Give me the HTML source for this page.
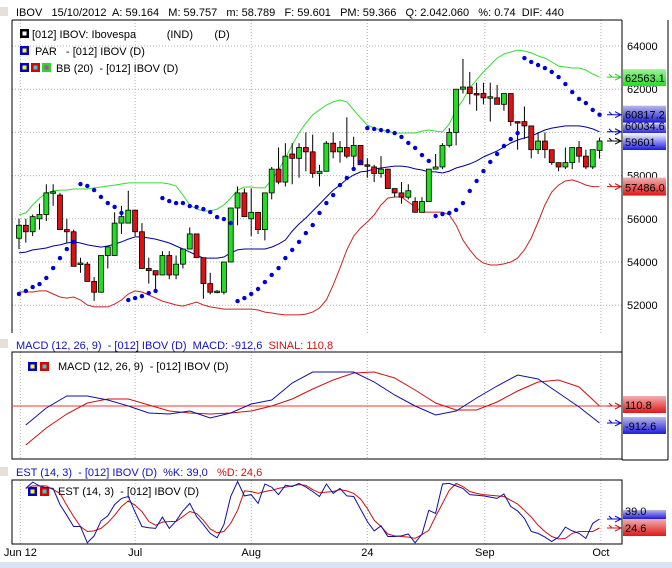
<!DOCTYPE html>
<html><head><meta charset="utf-8">
<style>
body{margin:0;background:#fff;width:672px;height:568px;overflow:hidden;font-family:"Liberation Sans",sans-serif;}
svg{display:block}
text{font-family:"Liberation Sans",sans-serif;font-size:11px;white-space:pre}
</style></head>
<body>
<svg id="chart" width="672" height="568" xmlns="http://www.w3.org/2000/svg" xml:space="preserve">
<defs>
<linearGradient id="gG" x1="0" y1="0" x2="0" y2="1"><stop offset="0" stop-color="#9ef09e"/><stop offset="1" stop-color="#22dd22"/></linearGradient>
<linearGradient id="gB" x1="0" y1="0" x2="0" y2="1"><stop offset="0" stop-color="#b8b8e8"/><stop offset="1" stop-color="#1c1ce0"/></linearGradient>
<linearGradient id="gR" x1="0" y1="0" x2="0" y2="1"><stop offset="0" stop-color="#f0b0b0"/><stop offset="1" stop-color="#e01818"/></linearGradient>
<linearGradient id="gBl" x1="0" y1="0" x2="0" y2="1"><stop offset="0" stop-color="#ffffff"/><stop offset="1" stop-color="#1818e8"/></linearGradient>
</defs>
<rect x="0" y="562" width="672" height="6" fill="#d8e4f0"/>
<rect x="0" y="7" width="8" height="9" fill="#e8e0d8"/>
<text x="16" y="16" fill="#000">IBOV   15/10/2012  A: 59.164   M: 59.757   m: 58.789   F: 59.601   PM: 59.366   Q: 2.042.060   %: 0.74  DIF: 440</text>
<g id="grid"></g>
<line x1="12" y1="20" x2="622" y2="20" stroke="#000"/>
<line x1="12" y1="20" x2="12" y2="333" stroke="#000"/>
<line x1="622" y1="20" x2="622" y2="460" stroke="#000"/>
<line x1="668" y1="20" x2="668" y2="460" stroke="#000"/>
<line x1="622" y1="460" x2="668" y2="460" stroke="#000"/>
<rect x="12" y="352" width="610" height="107" fill="none" stroke="#000"/>
<rect x="12" y="480" width="610" height="64" fill="none" stroke="#000"/>
<g>
<rect x="20" y="29" width="9" height="9" fill="#000"/><rect x="22.5" y="31.5" width="4" height="4" fill="#fff"/>
<text x="32" y="38">[012] IBOV: Ibovespa          (IND)       (D)</text>
<rect x="20" y="46" width="9" height="9" fill="#0000cc"/><rect x="22.5" y="48.5" width="4" height="4" fill="#ffff00"/>
<text x="32" y="55"> PAR   - [012] IBOV (D)</text>
<rect x="20" y="63" width="9" height="9" fill="#0000cc"/><rect x="22.5" y="65.5" width="4" height="4" fill="#ffff00"/>
<rect x="31" y="63" width="9" height="9" fill="#dd0000"/><rect x="33.5" y="65.5" width="4" height="4" fill="#33cccc"/>
<rect x="42" y="63" width="9" height="9" fill="#22dd22"/><rect x="44.5" y="65.5" width="4" height="4" fill="#cc33cc"/>
<text x="56" y="72">BB (20)  - [012] IBOV (D)</text>
</g>
<rect x="0" y="339" width="8" height="9" fill="#e8e0d8"/>
<text x="16" y="349" fill="#1010c0">MACD (12, 26, 9)  - [012] IBOV (D)  MACD: -912,6  <tspan fill="#d01010">SINAL: 110,8</tspan></text>
<g>
<rect x="28" y="362" width="9" height="9" fill="#0000cc"/><rect x="30.5" y="364.5" width="4" height="4" fill="#ffff00"/>
<rect x="40" y="362" width="9" height="9" fill="#dd0000"/><rect x="42.5" y="364.5" width="4" height="4" fill="#33cccc"/>
<text x="58" y="370">MACD (12, 26, 9)  - [012] IBOV (D)</text>
</g>
<rect x="0" y="467" width="8" height="9" fill="#e8e0d8"/>
<text x="16" y="476" fill="#1010c0">EST (14, 3)  - [012] IBOV (D)  %K: 39,0   <tspan fill="#d01010">%D: 24,6</tspan></text>
<g>
<rect x="28" y="487" width="9" height="9" fill="#0000cc"/><rect x="30.5" y="489.5" width="4" height="4" fill="#ffff00"/>
<rect x="40" y="487" width="9" height="9" fill="#dd0000"/><rect x="42.5" y="489.5" width="4" height="4" fill="#33cccc"/>
<text x="58" y="495">EST (14, 3)  - [012] IBOV (D)</text>
</g>
<g id="marks"></g>
<g id="labels"></g>
</svg>
<script>
const opens=[55.1,55.7,55.4,56.0,56.2,57.2,57.1,55.5,55.4,53.9,53.9,53.1,52.6,54.3,54.3,55.8,55.8,56.4,55.4,53.7,53.6,53.4,54.3,53.4,53.9,54.6,55.3,54.2,53.0,52.6,52.6,54.0,56.5,57.2,56.0,56.3,55.5,57.2,58.3,57.7,59.0,58.8,59.3,59.1,58.1,58.2,59.5,59.1,59.3,58.9,59.4,58.5,58.4,58.1,58.3,57.4,57.2,57.0,56.8,56.3,56.8,58.3,58.4,59.4,60.0,62.0,62.1,61.8,61.8,61.6,61.6,61.3,61.8,60.5,60.5,60.3,59.2,59.6,59.2,58.6,58.4,58.6,59.3,58.9,58.4,59.164];
const highs=[56.0,56.0,56.2,56.7,57.6,57.6,57.2,56.0,55.5,54.2,54.0,53.3,54.3,54.7,56.3,56.6,57.3,56.4,55.8,54.2,53.6,54.5,54.5,54.3,54.6,55.6,55.3,54.2,53.5,52.7,54.0,56.5,57.5,57.4,57.4,56.3,57.2,58.4,59.3,59.5,59.5,59.5,60.0,59.9,58.5,59.6,60.0,59.6,60.7,59.8,59.4,58.8,58.5,58.9,58.3,57.4,57.7,57.6,57.0,57.0,58.3,59.0,59.5,60.2,62.0,63.4,62.8,62.3,62.3,62.3,62.2,61.8,61.8,60.5,61.2,60.3,60.0,60.0,59.2,58.6,59.3,59.3,59.6,59.2,59.2,59.757];
const lows=[54.6,54.9,55.2,55.5,55.9,56.6,55.5,54.9,53.8,53.5,53.1,52.2,52.6,53.7,54.3,55.3,55.8,55.2,53.7,53.0,52.6,53.4,53.2,53.2,53.7,54.6,54.2,52.3,52.5,52.55,52.5,54.0,55.7,56.1,55.2,55.3,55.0,56.9,57.6,57.5,57.6,57.9,58.2,57.9,57.5,58.2,58.8,58.6,58.8,58.3,58.5,57.9,57.7,57.9,57.4,57.0,56.7,56.9,56.3,56.3,56.8,58.3,58.3,59.3,59.4,61.8,61.3,61.0,61.3,60.5,61.3,61.0,60.3,59.2,59.7,58.8,59.0,58.8,58.5,58.2,58.3,58.3,58.6,58.3,58.3,58.789];
const closes=[55.7,55.4,56.1,56.2,57.2,57.25,55.5,55.4,53.8,53.95,53.1,52.6,54.3,54.7,55.8,56.1,56.4,55.4,53.7,53.6,53.4,54.3,53.4,53.9,54.6,55.3,54.2,53.0,52.6,52.65,54.0,56.5,57.2,56.1,56.3,55.5,57.2,58.3,57.7,58.9,58.8,59.3,59.1,58.1,58.2,59.5,59.1,59.3,58.9,59.4,58.5,58.45,58.1,58.3,57.4,57.2,57.0,57.3,56.3,56.8,58.3,58.4,59.4,60.0,62.0,62.1,61.8,61.75,61.6,61.65,61.3,61.8,60.5,60.45,60.3,59.2,59.6,59.2,58.6,58.4,58.6,59.3,58.9,58.4,59.2,59.601];
const bbUpper=[56.18,56.27,56.64,56.96,57.19,57.29,57.33,57.33,57.38,57.38,57.38,57.43,57.47,57.52,57.56,57.61,57.66,57.66,57.66,57.66,57.66,57.66,57.61,57.52,57.10,56.64,56.45,56.36,56.36,56.45,56.64,56.96,57.33,57.47,57.47,57.43,57.43,57.80,58.26,58.81,59.42,59.97,60.43,60.81,61.04,61.27,61.41,61.50,61.41,61.04,60.67,60.34,60.20,60.11,60.06,59.97,59.97,59.97,59.97,60.06,60.11,60.06,60.02,60.39,61.04,61.50,62.06,62.43,62.80,63.12,63.44,63.63,63.72,63.81,63.77,63.68,63.54,63.44,63.26,63.07,63.03,62.98,62.98,62.89,62.70,62.56];
const bbMid=[54.42,54.46,54.56,54.60,54.65,54.74,54.79,54.88,54.93,54.88,54.79,54.74,54.69,54.74,54.83,54.93,55.06,55.16,55.16,55.11,55.06,54.97,54.88,54.74,54.60,54.46,54.32,54.18,54.18,54.18,54.23,54.42,54.56,54.60,54.60,54.60,54.60,54.69,54.83,55.02,55.43,55.76,56.04,56.36,56.68,57.01,57.33,57.56,57.84,58.03,58.17,58.21,58.31,58.35,58.40,58.44,58.44,58.40,58.31,58.26,58.17,58.17,58.12,58.21,58.35,58.44,58.54,58.68,58.86,59.00,59.14,59.32,59.51,59.65,59.74,59.83,59.97,60.11,60.20,60.25,60.30,60.30,60.30,60.25,60.16,60.03];
const bbLower=[52.61,52.61,52.61,52.66,52.66,52.52,52.38,52.33,52.38,52.24,52.01,51.92,51.92,51.92,52.05,52.24,52.52,52.66,52.61,52.47,52.33,52.19,52.10,52.01,51.96,52.05,52.15,52.01,51.92,51.87,51.82,51.82,51.82,51.82,51.82,51.78,51.68,51.64,51.59,51.55,51.55,51.55,51.59,51.68,51.87,52.24,52.93,53.72,54.56,55.20,55.57,55.85,56.18,56.64,56.96,57.01,57.01,56.78,56.55,56.31,56.31,56.31,56.31,56.18,55.71,55.02,54.56,54.18,53.95,53.86,53.86,53.91,54.00,54.18,54.56,55.11,55.85,56.64,57.24,57.56,57.75,57.80,57.70,57.56,57.49,57.49];
const sar=[52.52,52.66,52.84,52.98,53.26,53.72,54.18,54.60,54.93,57.61,57.52,57.33,57.01,56.73,56.55,56.27,52.24,52.33,52.42,52.56,52.66,56.96,56.82,56.73,56.73,56.59,56.55,56.45,56.31,56.08,55.99,55.80,52.19,52.33,52.52,52.75,53.07,53.40,53.72,54.18,54.56,54.93,55.34,55.71,56.27,56.73,57.10,57.56,57.89,58.31,58.63,60.20,60.16,60.11,60.06,59.97,59.79,59.51,59.28,58.95,58.68,56.13,56.22,56.27,56.41,56.73,57.29,57.75,58.21,58.63,59.00,59.37,59.69,59.97,63.44,63.26,63.12,62.98,62.80,62.56,62.24,61.87,61.55,61.36,61.04,60.82];
const macdDays=[1,4,7,10,13,16,19,22,25,28,31,34,37,40,43,46,49,52,55,58,61,64,67,70,73,76,79,82,85];
const macdLine=[-1034,-10,713,713,472,111,-311,-371,-190,-612,-311,231,472,1496,2159,2159,2159,1557,774,111,-431,-190,593,1316,1978,1737,894,51,-912.6];
const signalLine=[-2238,-1214,-371,292,533,533,171,-190,-311,-371,-311,-190,111,533,1135,1677,2099,2159,1798,1075,292,-130,-130,352,1014,1557,1677,1255,110.8];
const stochK=[88,98,92,89,88,62,45,27,27,1,12,36,44,62,72,75,50,27,25,24,42,24,36,52,64,43,30,16,9,30,75,99,76,78,64,95,90,78,93,91,96,90,83,75,95,80,88,76,75,55,35,20,28,11,11,12,15,1,15,53,48,95,96,92,88,78,77,76,74,72,79,59,52,40,19,16,10,3,10,26,20,16,8,32,39];
const stochD=[88,92,92,92,86,80,61,43,27,19,20,24,33,45,59,68,61,51,35,29,34,35,35,43,51,48,37,23,17,19,32,53,84,83,80,83,85,88,90,92,94,93,86,81,82,83,86,84,80,71,56,37,27,15,12,11,10,8,14,21,43,64,85,96,91,83,80,78,77,76,75,69,63,53,42,29,19,11,7,8,16,19,19,19,24.6];
const priceTicks=[52,54,56,58,60,62,64];
const priceTickLabels=["52000","54000","56000","58000","60000","62000","64000"];
const dateTickDays=[0.2,17,34,51,68.2,85.2];
const dateTickLabels=["Jun 12","Jul","Aug","24","Sep","Oct"];

const NS="http://www.w3.org/2000/svg";
const xOf=i=>19+i*6.83;
const yP=p=>46+(64-p)*21.6;
const yM=v=>406-(v-110.8)*0.0166;
const yS=v=>543.4-v*0.625;
const marks=document.getElementById('marks');
const grid=document.getElementById('grid');
const labels=document.getElementById('labels');
function mk(tag,attrs,parent){const e=document.createElementNS(NS,tag);for(const k in attrs)e.setAttribute(k,attrs[k]);parent.appendChild(e);return e;}

priceTicks.forEach((p,k)=>{
  const l=mk('line',{x1:12,x2:622,y1:yP(p),y2:yP(p),stroke:'#b0b0b0','stroke-dasharray':'1,2'},grid);
  
  
  const t=mk('text',{x:627,y:yP(p)+4,fill:'#000'},labels);
  t.textContent=priceTickLabels[k];
  
  
});
dateTickDays.forEach((d,k)=>{
  const x=xOf(d);
  [[20,333],[352,459],[480,544]].forEach(r=>{
    const l=mk('line',{x1:x,x2:x,y1:r[0],y2:r[1],stroke:'#b0b0b0','stroke-dasharray':'1,2'},grid);
    
    
  });
  const t=mk('text',{x:x,y:556,'text-anchor':'middle',fill:'#000'},labels);
  t.textContent=dateTickLabels[k];
  
  
});

function poly(arr,yf,color,name,days,w){
  const pts=arr.map((v,i)=>xOf(days?days[i]:i).toFixed(1)+','+yf(v).toFixed(1)).join(' ');
  const e=mk('polyline',{points:pts,fill:'none',stroke:color,'stroke-width':w||1},marks);
  
  
}
poly(bbUpper,yP,'#33dd33','bb-upper-line');
poly(bbMid,yP,'#000099','bb-middle-line');
poly(bbLower,yP,'#cc2222','bb-lower-line');

closes.forEach((c,i)=>{
  const x=xOf(i),o=opens[i];
  const w=mk('line',{x1:x,x2:x,y1:yP(highs[i]),y2:yP(lows[i]),stroke:'#000'},marks);
  
  
  const top=yP(Math.max(o,c)),bot=yP(Math.min(o,c));
  const b=mk('rect',{x:x-2.5,y:top,width:5,height:Math.max(bot-top,1.5),fill:c>=o?'#22dd22':'#dd1111',stroke:'#000','stroke-width':0.8},marks);
  
  
});
sar.forEach((v,i)=>{
  const d=mk('circle',{cx:xOf(i),cy:yP(v),r:2.2,fill:'#0000dd'},marks);
  
  
});

const sl=mk('line',{x1:12,x2:622,y1:yM(110.8),y2:yM(110.8),stroke:'#ff3030'},marks);


poly(signalLine,yM,'#cc1111','macd-signal-line',macdDays);
poly(macdLine,yM,'#1010a0','macd-line',macdDays);

const kDays=stochK.map((v,i)=>i+1);
poly(stochD,yS,'#cc1111','stoch-d-line',kDays);
poly(stochK,yS,'#1010a0','stoch-k-line',kDays);

function tag(y,h,grad,txt,color,name,ay){
  const a=mk('path',{d:`M607,${ay} L621,${ay} M615,${ay-3} L621,${ay} L615,${ay+3} M609,${ay-3} L612,${ay}`,stroke:color,fill:'none','stroke-width':1},labels);
  
  
  const r=mk('rect',{x:623,y:y,width:43,height:h,fill:grad},labels);
  
  
  const t=mk('text',{x:625,y:y+h-4,fill:'#000'},labels);
  t.textContent=txt;
  
  
}
tag(yP(bbUpper[85])-8,17,'url(#gG)','62563.1','#22cc22','bb-upper-tag',yP(bbUpper[85]));
tag(yP(sar[85])-9,17,'url(#gB)','60817.2','#0000cc','sar-tag',yP(sar[85]));
tag(yP(bbMid[85])-8,10,'url(#gB)','60034.6','#0000cc','bb-mid-tag',yP(bbMid[85]));
tag(yP(closes[85])-8,17,'url(#gBl)','59601','#000000','close-tag',yP(closes[85]));
tag(yP(bbLower[85])-9,18,'url(#gR)','57486.0','#cc1111','bb-lower-tag',yP(bbLower[85]));
tag(yM(110.8)-10,17,'url(#gR)','110.8','#cc1111','signal-tag',yM(110.8));
tag(yM(-912.6)-6,17,'url(#gB)','-912.6','#0000cc','macd-tag',yM(-912.6));
tag(yS(39)-9,9,'url(#gB)','39.0','#0000cc','k-tag',yS(39));
tag(yS(24.6)-9,17,'url(#gR)','24.6','#cc1111','d-tag',yS(24.6));
</script>
</body></html>
